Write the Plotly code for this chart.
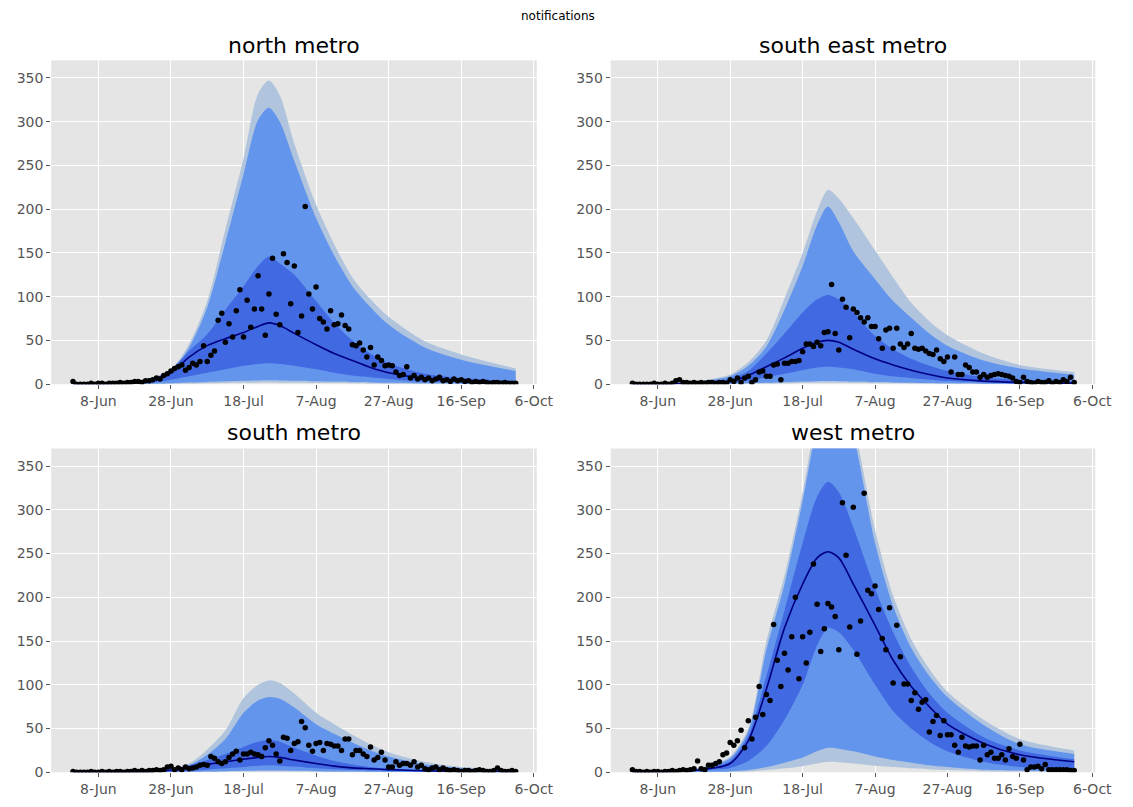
import pandas as pd
import plotly.graph_objects as go

# ---------------- data ----------------
START = "2020-06-01"

north_obs = [3, 0, 0, 0, 0, 1, 0, 1, 1, 0, 1, 1, 1, 2,
             1, 2, 2, 3, 3, 2, 4, 4, 5,
             7, 6, 10, 12, 15, 18, 20, 22,
             16, 19, 24, 22, 26, 44, 26, 33, 38, 73,
             81, 48, 69, 54, 84, 108, 54, 96, 65, 86,
             124, 86, 56, 103, 144, 80, 68, 149, 139, 92,
             135, 59, 78, 203, 103, 86, 111, 75, 71, 63,
             84, 68, 69, 79, 67, 63, 45, 44, 47, 39,
             31, 42, 22, 31, 27, 21, 22, 21, 14, 10,
             11, 20, 7, 10, 6, 8, 5, 7, 4, 6,
             8, 4, 5, 3, 6, 4, 5, 3, 4, 2,
             3, 2, 3, 2, 1, 2, 2, 1, 2, 1, 1, 1]

southeast_obs = [1, 0, 0, 0, 0, 0, 1, 0, 0, 1, 0, 1,
                 4, 5, 2, 2, 1, 2, 1, 2, 1, 2, 2, 1, 2, 2, 1,
                 5, 3, 7, 2, 7, 9, 2, 5, 14, 15, 9, 9, 22, 23, 5, 24, 24, 26, 26, 27,
                 37, 46, 46, 43, 48, 44, 59, 60, 114, 58, 39, 97, 88, 53, 86, 82, 76,
                 71, 76, 66, 66, 52, 41, 62, 64, 41, 64, 46, 42, 46, 58, 41, 40, 41,
                 38, 35, 34, 39, 29, 26, 31, 14, 31, 11, 11, 22, 19, 14, 14, 8, 11,
                 8, 10, 11, 12, 11, 10, 9, 7, 3, 2, 8, 3,
                 2, 1, 3, 2, 2, 4, 1, 3, 2, 5, 3, 8, 2]

south_obs = [1,
             0, 0, 0, 0, 1, 0, 0, 1, 0, 1, 0, 1, 1, 0, 1, 1, 2, 1, 2, 1, 2, 2, 3, 2, 3,
             6, 7, 3, 5, 3, 6, 4, 5, 6, 8, 9, 8, 18, 16, 12, 10, 12, 17, 21, 24,
             14, 21, 21, 23, 21, 20, 18, 28, 36, 31, 21, 13, 40, 39, 25, 33, 35,
             58, 51, 31, 24, 33, 34, 25, 33, 32, 30, 30, 25, 38, 38, 20, 25, 25,
             21, 18, 29, 14, 17, 23, 14, 6, 6, 12, 8, 10, 10, 8, 12, 6, 8, 4, 3,
             5, 6, 3, 5, 3,
             2, 3, 2, 1, 2, 2, 1, 2, 3, 2, 1, 1, 2, 5, 2, 1, 1, 2, 1]

west_obs = [3, 1, 1,
            0, 1, 0, 1, 1, 0, 1, 1, 2, 1, 2, 3, 2, 3, 4,
            13, 4, 3, 8, 8, 10, 12, 20, 22, 34, 31, 36, 48, 28, 59, 38, 63, 98,
            66, 89, 82, 169, 128, 98, 136, 117, 155, 200, 107, 155, 125, 160,
            238, 192, 138, 164, 193, 189, 178, 140, 308, 248, 166, 303, 135,
            173, 319, 208, 204, 213, 186, 153, 140, 188, 102, 168, 132, 101,
            101, 82, 91, 72, 80, 83, 46, 58, 65, 42, 59, 43, 43, 31, 23, 40,
            30, 29, 30, 30, 14, 31, 20, 23, 16, 16, 20, 14, 27, 18, 16, 32,
            14, 3, 6, 6, 7, 4, 9, 3, 3, 3, 3, 3, 3, 2, 2]

# model quantile knots
knot_dates = ["2020-06-01", "2020-06-11", "2020-06-18", "2020-06-23", "2020-06-28",
              "2020-07-03", "2020-07-08", "2020-07-13", "2020-07-18", "2020-07-22",
              "2020-07-25", "2020-07-28", "2020-08-01", "2020-08-07", "2020-08-12",
              "2020-08-17", "2020-08-22", "2020-08-27", "2020-09-06", "2020-09-16",
              "2020-10-01"]

north_q025 = [0.02, 0.04, 0.1, 0.2, 0.4, 0.7, 1, 1.3, 1.5, 1.7, 1.8, 1.7, 1.6, 1.4, 1.2, 1, 0.8, 0.6, 0.4, 0.2, 0.1]
north_q05 = [0.05, 0.1, 0.3, 0.6, 1, 1.8, 2.5, 3.2, 3.8, 4.2, 4.4, 4.3, 4, 3.4, 2.9, 2.4, 2, 1.6, 1, 0.6, 0.3]
north_q25 = [0.1, 0.3, 1, 2, 5, 9, 13, 17, 21, 23, 24, 23, 21, 17, 13, 10, 8, 6, 3, 2, 1]
north_q50 = [0.2, 0.6, 2, 5, 13, 31, 44, 52, 59, 66, 70, 67, 58, 45, 35, 27, 19, 13, 6.5, 3.5, 2]
north_q75 = [0.2, 0.6, 2.2, 6, 17, 38, 57, 85, 112, 135, 146, 138, 125, 95, 70, 50, 35, 24, 12, 7, 3.5]
north_q95 = [0.4, 1.2, 3.5, 7, 15, 42, 88, 162, 240, 302, 316, 300, 255, 190, 147, 112, 88, 68, 42, 28, 15]
north_q975 = [0.5, 1.5, 4, 8, 17, 46, 95, 177, 258, 332, 347, 330, 275, 205, 160, 122, 97, 77, 49, 34, 18]

southeast_q025 = [0.01, 0.02, 0.05, 0.1, 0.2, 0.4, 0.7, 1, 1.3, 1.5, 1.5, 1.5, 1.3, 1.1, 0.9, 0.7, 0.5, 0.4, 0.2, 0.1, 0.05]
southeast_q05 = [0.02, 0.05, 0.1, 0.2, 0.4, 0.9, 1.6, 2.3, 3, 3.4, 3.5, 3.4, 3.1, 2.5, 2, 1.6, 1.2, 0.9, 0.5, 0.3, 0.15]
southeast_q25 = [0.05, 0.15, 0.4, 0.8, 1.5, 4, 8, 12, 16, 19, 20, 19, 17, 12, 9, 7, 5, 3.5, 2, 1, 0.5]
southeast_q50 = [0.1, 0.3, 0.8, 1.5, 3.5, 10, 20, 30, 41, 48, 50, 48, 40, 29, 22, 16, 11, 7, 3.5, 2, 1]
southeast_q75 = [0.15, 0.5, 1.5, 3, 6, 15, 35, 58, 82, 97, 102, 97, 82, 55, 40, 29, 21, 15, 8, 5, 3]
southeast_q95 = [0.25, 0.8, 2.5, 5, 9, 21, 43, 85, 135, 182, 203, 185, 152, 120, 95, 76, 58, 44, 27, 18, 11]
southeast_q975 = [0.3, 1, 3, 6, 11, 25, 50, 98, 150, 198, 222, 212, 190, 153, 122, 93, 72, 56, 35, 22, 14]

south_q025 = [0.005, 0.01, 0.02, 0.05, 0.1, 0.25, 0.45, 0.6, 0.8, 0.95, 1, 0.95, 0.85, 0.65, 0.5, 0.4, 0.3, 0.2, 0.12, 0.06, 0.03]
south_q05 = [0.01, 0.02, 0.05, 0.1, 0.2, 0.5, 0.9, 1.2, 1.6, 1.9, 2, 1.9, 1.7, 1.3, 1, 0.8, 0.6, 0.4, 0.25, 0.12, 0.06]
south_q25 = [0.02, 0.05, 0.1, 0.3, 0.6, 1.5, 3, 4.5, 6, 7.5, 8, 7.5, 6.5, 4.5, 3.5, 2.5, 2, 1.5, 0.8, 0.4, 0.2]
south_q50 = [0.05, 0.1, 0.3, 0.6, 2.5, 6, 9, 12, 15, 17, 18, 17, 14, 10, 7, 5, 4, 3, 1.8, 1, 0.5]
south_q75 = [0.1, 0.2, 0.5, 1, 3, 8, 14, 21, 29, 35, 37, 35, 28, 19, 13, 9, 6, 4, 2, 1, 0.5]
south_q95 = [0.15, 0.4, 1, 2, 4, 8, 20, 38, 68, 82, 86, 84, 74, 55, 44, 34, 25, 18, 9, 5, 2.5]
south_q975 = [0.2, 0.5, 1.2, 2.5, 5, 10, 26, 48, 85, 100, 105, 102, 90, 68, 55, 43, 32, 23, 12, 6, 3]

west_q025 = [0.02, 0.05, 0.12, 0.25, 0.45, 1, 2.5, 4.5, 7, 10, 12, 11.5, 10, 7.5, 6, 4.5, 3.5, 2.5, 1.3, 0.8, 0.4]
west_q05 = [0.05, 0.1, 0.3, 0.6, 1, 2.5, 6, 11, 17, 24, 28, 27, 24, 18, 14, 11, 8, 6, 3, 2, 1]
west_q25 = [0.2, 0.6, 1.5, 3, 5, 13, 30, 60, 100, 145, 165, 160, 140, 100, 70, 50, 35, 24, 12, 6, 3]
west_q50 = [0.2, 0.7, 2, 4.5, 10, 36, 95, 165, 215, 245, 252, 245, 215, 168, 128, 98, 75, 55, 33, 20, 12]
west_q75 = [0.3, 1, 2.5, 6, 13, 42, 110, 185, 262, 315, 332, 320, 280, 210, 160, 120, 90, 68, 40, 25, 15]
west_q95 = [0.4, 1.3, 3.5, 8, 16, 47, 140, 215, 310, 395, 430, 430, 385, 262, 190, 142, 110, 86, 54, 32, 21]
west_q975 = [0.5, 1.5, 4, 9, 18, 50, 150, 225, 320, 410, 450, 455, 400, 277, 202, 152, 118, 92, 60, 38, 25]

titles = ["north metro", "south east metro", "south metro", "west metro"]
tick_dates = ["2020-06-08", "2020-06-28", "2020-07-18", "2020-08-07",
              "2020-08-27", "2020-09-16", "2020-10-06"]
tick_labels = ["8-Jun", "28-Jun", "18-Jul", "7-Aug", "27-Aug", "16-Sep", "6-Oct"]
y_ticks = [0, 50, 100, 150, 200, 250, 300, 350]

panels = [
    (north_obs, north_q025, north_q05, north_q25, north_q50, north_q75, north_q95, north_q975),
    (southeast_obs, southeast_q025, southeast_q05, southeast_q25, southeast_q50, southeast_q75, southeast_q95, southeast_q975),
    (south_obs, south_q025, south_q05, south_q25, south_q50, south_q75, south_q95, south_q975),
    (west_obs, west_q025, west_q05, west_q25, west_q50, west_q75, west_q95, west_q975),
]

# ---------------- style ----------------
W, H = 1133, 807
C_OUTER = "#B0C4DE"
C_MID = "#6495ED"
C_INNER = "#4169E1"
C_MED = "#000080"
BG = "#E5E5E5"
FONT = "DejaVu Sans"

x_domains = [(52 / W, 545 / W), (620 / W, 1112 / W)]
y_domains = [(1 - 388 / H, 1 - 61 / H), (1 - 780 / H, 1 - 453 / H)]

fig = go.Figure()


def band(fig, lo, hi, color, xa, ya):
    fig.add_trace(go.Scatter(x=knot_dates, y=lo, mode="lines", line=dict(width=0, color=color, shape="spline", smoothing=0.8),
                             hoverinfo="skip", showlegend=False, xaxis=xa, yaxis=ya))
    fig.add_trace(go.Scatter(x=knot_dates, y=hi, mode="lines", line=dict(width=0, color=color, shape="spline", smoothing=0.8),
                             fill="tonexty", fillcolor=color, hoverinfo="skip", showlegend=False, xaxis=xa, yaxis=ya))


for k, (obs, q025, q05, q25, q50, q75, q95, q975) in enumerate(panels):
    n = k + 1
    xa = "x" if n == 1 else f"x{n}"
    ya = "y" if n == 1 else f"y{n}"
    band(fig, q025, q975, C_OUTER, xa, ya)
    band(fig, q05, q95, C_MID, xa, ya)
    band(fig, q25, q75, C_INNER, xa, ya)
    fig.add_trace(go.Scatter(x=knot_dates, y=q50, mode="lines",
                             line=dict(color=C_MED, width=1.6, shape="spline", smoothing=0.8),
                             showlegend=False, xaxis=xa, yaxis=ya))
    obs_dates = pd.date_range(START, periods=len(obs), freq="D")
    fig.add_trace(go.Scatter(x=obs_dates, y=obs, mode="markers",
                             marker=dict(color="black", size=5.5),
                             showlegend=False, xaxis=xa, yaxis=ya, cliponaxis=True))

layout = dict(
    width=W, height=H,
    margin=dict(l=0, r=0, t=0, b=0),
    paper_bgcolor="white",
    plot_bgcolor=BG,
    showlegend=False,
    font=dict(family=FONT, color="#555555", size=14),
)

for k in range(4):
    n = k + 1
    col = k % 2
    row = k // 2
    xkey = "xaxis" if n == 1 else f"xaxis{n}"
    ykey = "yaxis" if n == 1 else f"yaxis{n}"
    layout[xkey] = dict(
        domain=list(x_domains[col]), anchor="y" if n == 1 else f"y{n}",
        range=["2020-05-26", "2020-10-06 20:00"],
        tickvals=tick_dates, ticktext=tick_labels,
        showgrid=True, gridcolor="white", gridwidth=1,
        zeroline=False, showline=False,
        ticks="outside", ticklen=4, tickcolor="#555555",
        tickfont=dict(family=FONT, size=14, color="#555555"),
    )
    layout[ykey] = dict(
        domain=list(y_domains[row]), anchor="x" if n == 1 else f"x{n}",
        range=[0, 370],
        tickvals=y_ticks,
        showgrid=True, gridcolor="white", gridwidth=1,
        zeroline=False, showline=False,
        ticks="outside", ticklen=4, tickcolor="#555555",
        tickfont=dict(family=FONT, size=14, color="#555555"),
    )

annotations = [dict(text="notifications", x=0.5, y=1 - 16 / H, xref="paper", yref="paper",
                    showarrow=False, font=dict(family=FONT, size=12, color="black"),
                    xanchor="center", yanchor="middle")]
for k, t in enumerate(titles):
    col = k % 2
    row = k // 2
    xc = (x_domains[col][0] + x_domains[col][1]) / 2
    yc = 1 - (46 if row == 0 else 437) / H
    annotations.append(dict(text=t, x=xc, y=yc, xref="paper", yref="paper", showarrow=False,
                            font=dict(family=FONT, size=22, color="black"),
                            xanchor="center", yanchor="middle"))
layout["annotations"] = annotations

fig.update_layout(**layout)
fig.write_html("out.html", config={"displayModeBar": False})

# remove the default page margin so the figure sits at the window's top-left corner
with open("out.html", "r", encoding="utf-8") as f:
    html = f.read()
html = html.replace("<head>", "<head><style>html,body{margin:0;padding:0;overflow:hidden;}</style>", 1)
with open("out.html", "w", encoding="utf-8") as f:
    f.write(html)
